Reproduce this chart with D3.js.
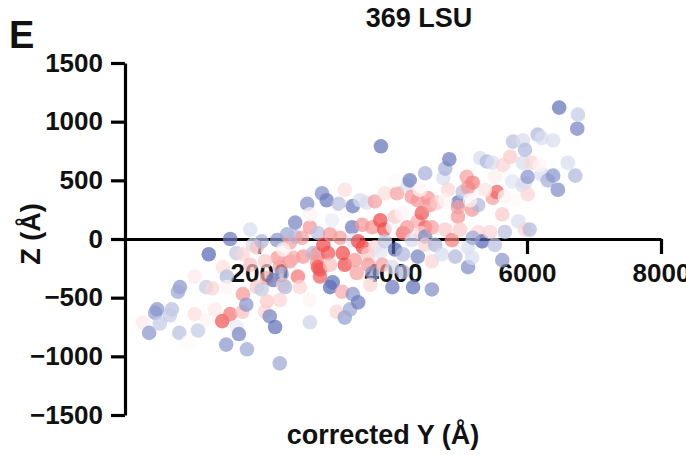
<!DOCTYPE html>
<html>
<head>
<meta charset="utf-8">
<script src="https://cdn.jsdelivr.net/npm/d3@7"></script>
<style>
  html, body { margin: 0; padding: 0; background: #ffffff; }
  svg { display: block; }
  text { font-family: "Liberation Sans", Arial, sans-serif; font-weight: bold; fill: #111; }
</style>
</head>
<body>
<svg id="chart" width="686" height="455"></svg>
<script>
// ---- Data ----
const title = "369 LSU";
const panelLabel = "E";
const xLabel = "corrected Y (Å)";
const yLabel = "Z (Å)";
const xTicks = [2000, 4000, 6000, 8000];
const yTicks = [-1500, -1000, -500, 0, 500, 1000, 1500];

// corrected Y (Å)
const xs = [270,360,450,480,520,700,670,810,820,790,940,1040,1090,1040,1210,1250,1220,1300,1340,1450,
  1460,1520,1520,1510,1570,1570,1660,1670,1700,1760,1760,1750,1810,1820,1870,1870,1910,1970,1970,2040,
  2040,2090,2120,2120,2160,2240,2210,2270,2280,2310,2310,2340,2360,2390,2420,2460,2460,2510,2540,2540,
  2580,2610,2640,2660,2720,2760,2760,2810,2870,2870,2880,2880,2910,2910,2940,3010,2960,3030,3060,3060,
  3100,3090,3160,3190,3210,3240,3250,3280,3280,3310,3360,3390,3400,3400,3400,3430,3460,3480,3480,3540,
  3550,3610,3630,3630,3690,3690,3730,3730,3810,3810,3820,3840,3870,3880,3880,3990,3990,4000,4030,4030,
  4060,4130,4150,4150,4150,4210,4210,4250,4280,4280,4300,4370,4370,4370,4430,4480,4480,4420,4480,4480,
  4520,4550,4580,4580,4630,4580,4660,4750,4780,4780,4730,4820,4840,4880,4930,4970,4970,4970,5000,5040,
  5100,5120,5120,5120,5180,5180,5190,5270,5270,5300,5330,5400,5450,5480,5490,5520,5520,5550,5630,5630,
  5640,5670,5670,5750,5750,5780,5790,5870,5930,5940,5940,5970,5970,5970,6010,6010,6040,6070,6160,6220,
  6220,6310,6390,6390,6460,6480,6610,6720,6750,6760,5190,
  2090,2360,2760,3280,3510,4030,4400,4780,5150,5370,5820,6190,3060,2760,2310,3660];
// Z (Å)
const ys = [-710,-800,-630,-600,-720,-600,-650,-800,-410,-450,-880,-640,-780,-320,-410,-130,-690,-420,-600,-700,
  -240,-320,-410,-900,0,-640,-120,-750,-810,-130,-470,-620,-560,-940,80,-220,-50,-70,-410,-20,
  -430,-620,-330,-530,-660,-750,-350,-10,-160,-1060,-240,-300,-390,-410,40,-30,-190,-160,20,140,
  -320,-410,10,-150,300,100,-710,-120,-130,-200,50,-240,-320,-260,390,330,-50,-120,40,-410,
  -370,160,-620,300,10,-450,-120,-220,-670,210,-600,100,280,-10,-470,-180,-290,-20,-540,120,
  -70,310,-130,-220,100,-290,320,-70,160,-110,790,-220,80,390,-20,-240,-410,100,190,-90,
  390,220,50,-130,-280,100,460,500,360,-10,-410,330,150,-150,220,560,100,50,20,-50,
  350,290,100,-190,-50,-430,310,520,600,80,-130,420,680,-10,-150,310,270,190,80,400,
  530,440,-70,-240,250,-160,480,290,60,690,-20,660,60,650,350,530,-50,400,210,-180,
  630,360,60,700,530,490,830,150,460,840,650,760,480,80,530,380,80,650,890,860,
  550,500,840,540,420,1120,650,540,940,1060,10,
  -190,-90,210,420,330,500,420,330,330,420,330,630,-220,-520,-520,-390];
// colour value: -1 = blue, 0 = white, 1 = red
const cs = [0.1,-0.6,-0.55,-0.6,-0.3,-0.35,-0.3,-0.35,-0.6,-0.5,0.03,0.15,-0.3,0.1,-0.3,-0.85,0.05,0.2,0.1,0.8,
  0.15,-0.4,0.05,-0.6,-0.75,0.65,-0.3,-0.1,-0.7,0.2,0.5,0.3,-0.6,-0.5,-0.2,0.3,-0.2,0.3,0.25,-0.4,
  -0.3,0.2,0.4,0.25,-0.7,-0.8,-0.8,-0.6,0.5,-0.5,0.45,-0.5,0.25,-0.4,-0.5,0.45,0.5,0.4,-0.4,-0.7,
  0.65,0.2,0.45,0.5,-0.65,0.5,-0.25,-0.4,0.5,0.5,-0.35,0.8,0.75,0.8,-0.65,-0.75,0.85,0.8,0.5,-0.85,
  -0.8,-0.1,0.2,-0.35,0.45,0.4,0.85,0.85,-0.55,0.02,-0.5,-0.75,-0.75,-0.15,-0.6,0.5,0.45,0.85,-0.75,0.5,
  0.85,-0.2,0.25,0.5,0.5,-0.6,0.45,0.2,0.85,-0.15,-0.8,0.45,0.85,0.15,-0.3,-0.2,-0.75,-0.05,0.25,-0.85,
  0.45,0.05,0.7,-0.4,-0.4,0.5,-0.2,-0.75,0.5,-0.2,-0.8,0.5,0.4,-0.7,0.8,-0.45,0.75,0.2,-0.7,0.2,
  0.5,0.5,0.45,0.2,-0.4,-0.65,0.25,-0.2,-0.45,0.25,-0.2,0.2,-0.75,0.6,-0.4,-0.8,0.45,0.5,0.25,-0.35,
  0.45,0.5,-0.2,-0.65,0.5,-0.2,0.6,-0.4,0.2,-0.2,-0.85,-0.4,0.2,-0.2,0.45,0.08,-0.35,0.75,0.25,-0.6,
  0.2,0.05,-0.35,0.25,0.02,-0.15,-0.35,-0.2,-0.2,-0.2,-0.2,-0.4,-0.2,0.2,-0.6,0.2,-0.4,0.2,-0.4,-0.2,
  -0.2,-0.45,-0.2,-0.6,-0.65,-0.8,-0.2,-0.4,-0.7,-0.3,-0.5,
  0.25,0.05,0.05,0.15,-0.2,0.03,0.05,0.05,0.05,0.12,0.03,0.05,0.3,0.05,0.2,0.2];

// ---- Chart ----
const svg = d3.select("#chart");
const x = d3.scaleLinear().domain([0, 8000]).range([125, 661]);
const y = d3.scaleLinear().domain([-1500, 1500]).range([415, 63]);
const color = d3.scaleLinear().domain([-1, 0, 1])
  .range(["#3b4fa8", "#ffffff", "#ee2a2a"]).interpolate(d3.interpolateRgb);
const fmt = d3.format("d");
const fontFam = "'Liberation Sans', Arial, sans-serif";

// Y axis
const yAxis = d3.axisLeft(y).tickValues(yTicks).tickFormat(fmt)
  .tickSize(14).tickSizeOuter(0).tickPadding(8);
const gy = svg.append("g").attr("transform", `translate(${x(0)},0)`).call(yAxis);
gy.select(".domain").attr("stroke", "#000").attr("stroke-width", 3.2);
gy.selectAll(".tick line").attr("stroke", "#000").attr("stroke-width", 3.2);
gy.selectAll(".tick text").attr("font-size", 26).attr("fill", "#111")
  .style("font-family", fontFam).style("font-weight", "bold");

// X axis at Z = 0
const xAxis = d3.axisBottom(x).tickValues(xTicks).tickFormat(fmt)
  .tickSize(15).tickSizeOuter(0).tickPadding(10);
const gx = svg.append("g").attr("transform", `translate(0,${y(0)})`).call(xAxis);
gx.select(".domain").attr("stroke", "#000").attr("stroke-width", 3.2);
gx.selectAll(".tick line").attr("stroke", "#000").attr("stroke-width", 3.2);
gx.selectAll(".tick text").attr("font-size", 26).attr("fill", "#111")
  .style("font-family", fontFam).style("font-weight", "bold");

// Points
const pts = xs.map((v, i) => ({x: v, y: ys[i], c: cs[i]}));
svg.append("g").selectAll("circle").data(pts).join("circle")
  .attr("cx", d => x(d.x)).attr("cy", d => y(d.y)).attr("r", 7.3)
  .attr("fill", d => color(d.c)).attr("fill-opacity", 0.72);

// Titles
svg.append("text").attr("x", 419).attr("y", 27).attr("text-anchor", "middle")
  .attr("font-size", 27).text(title);
svg.append("text").attr("x", 9).attr("y", 48).attr("font-size", 38).text(panelLabel);
svg.append("text").attr("x", 383).attr("y", 444).attr("text-anchor", "middle")
  .attr("font-size", 27).text(xLabel);
svg.append("text").attr("transform", "translate(40,234) rotate(-90)").attr("text-anchor", "middle")
  .attr("font-size", 27).text(yLabel);
</script>
</body>
</html>
